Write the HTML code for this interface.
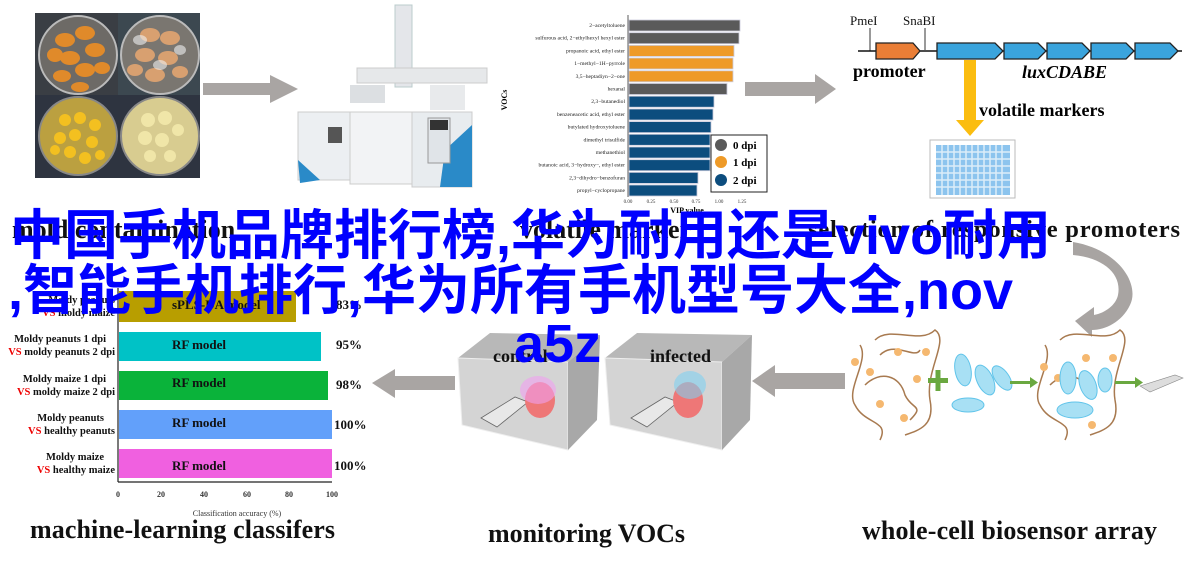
<!DOCTYPE html>
<html><head><meta charset="utf-8"><style>
html,body{margin:0;padding:0;background:#fff;}
body{width:1185px;height:569px;position:relative;overflow:hidden;font-family:"Liberation Serif",serif;}
svg{position:absolute;left:0;top:0;}
.ov{position:absolute;font-family:"Liberation Sans","Noto Sans CJK SC",sans-serif;font-weight:bold;color:#0000ff;font-size:54px;line-height:55px;white-space:nowrap;letter-spacing:0px;}
</style></head><body>
<svg width="1185" height="569" viewBox="0 0 1185 569" xmlns="http://www.w3.org/2000/svg" font-family="Liberation Serif, serif">
<!-- photo -->
<rect x="35" y="13" width="165" height="165" fill="#2e3440"/>
<rect x="35" y="13" width="83" height="82" fill="#3a3e44"/>
<rect x="118" y="13" width="82" height="82" fill="#3c4850"/>
<circle cx="78" cy="55" r="39" fill="#6d6a66" stroke="#bbb" stroke-width="2"/>
<circle cx="160" cy="55" r="39" fill="#7a7670" stroke="#bbb" stroke-width="2"/>
<circle cx="78" cy="136" r="39" fill="#bba040" stroke="#888" stroke-width="2"/>
<circle cx="160" cy="136" r="39" fill="#d8cc90" stroke="#888" stroke-width="2"/>
<g fill="#e08a2a">
<ellipse cx="65" cy="40" rx="10" ry="7"/><ellipse cx="85" cy="33" rx="10" ry="7"/><ellipse cx="95" cy="50" rx="10" ry="7"/><ellipse cx="70" cy="58" rx="10" ry="7"/><ellipse cx="55" cy="55" rx="8" ry="7"/><ellipse cx="85" cy="70" rx="10" ry="7"/><ellipse cx="62" cy="76" rx="9" ry="6"/><ellipse cx="102" cy="68" rx="8" ry="6"/><ellipse cx="80" cy="87" rx="9" ry="5"/></g>
<g fill="#d8a070"><ellipse cx="150" cy="35" rx="10" ry="7"/><ellipse cx="170" cy="38" rx="10" ry="7"/><ellipse cx="145" cy="55" rx="10" ry="7"/><ellipse cx="168" cy="58" rx="10" ry="7"/><ellipse cx="155" cy="75" rx="10" ry="7"/><ellipse cx="180" cy="72" rx="8" ry="6"/><ellipse cx="135" cy="70" rx="8" ry="6"/></g>
<g fill="#f0f0f0" opacity=".6"><ellipse cx="140" cy="40" rx="7" ry="5"/><ellipse cx="160" cy="65" rx="7" ry="5"/><ellipse cx="180" cy="50" rx="6" ry="5"/></g>
<g fill="#f3c020"><circle cx="65" cy="120" r="6"/><circle cx="80" cy="118" r="6"/><circle cx="95" cy="125" r="6"/><circle cx="60" cy="138" r="6"/><circle cx="75" cy="135" r="6"/><circle cx="92" cy="142" r="6"/><circle cx="70" cy="152" r="6"/><circle cx="85" cy="158" r="6"/><circle cx="100" cy="155" r="5"/><circle cx="55" cy="150" r="5"/></g>
<g fill="#f0e6a8"><circle cx="148" cy="120" r="7"/><circle cx="165" cy="118" r="7"/><circle cx="178" cy="130" r="6"/><circle cx="145" cy="138" r="7"/><circle cx="162" cy="140" r="7"/><circle cx="150" cy="156" r="6"/><circle cx="170" cy="156" r="6"/></g>
<!-- arrows -->
<polygon points="203,83 270,83 270,75 298,89 270,103 270,95 203,95" fill="#a9a5a3"/>
<polygon points="745,82 815,82 815,74 836,89 815,104 815,96 745,96" fill="#a9a5a3"/>
<polygon points="455,376 395,376 395,369 372,383 395,398 395,390 455,390" fill="#a9a5a3"/>
<polygon points="845,373 775,373 775,365 752,381 775,397 775,389 845,389" fill="#a9a5a3"/>
<!-- curved arrow -->
<path d="M1073,242 C1120,250 1140,285 1130,305 C1122,322 1105,330 1092,330 L1092,337 L1075,321 L1094,307 L1094,315 C1105,313 1116,305 1118,295 C1122,275 1105,258 1073,255 Z" fill="#a8a4a2"/>
<!-- machine -->
<rect x="395" y="5" width="17" height="82" fill="#e4e6ea" stroke="#bcc" />
<rect x="357" y="68" width="130" height="15" fill="#e6e8ea" stroke="#ccc"/>
<rect x="350" y="85" width="35" height="18" fill="#dcdfe2"/>
<rect x="430" y="85" width="35" height="25" fill="#e8eaec"/>
<rect x="298" y="112" width="110" height="68" fill="#eceff2" stroke="#ccc"/>
<rect x="350" y="112" width="65" height="72" fill="#f2f3f5" stroke="#ccc"/>
<rect x="412" y="112" width="60" height="75" fill="#e8ecef" stroke="#ccc"/>
<polygon points="298,160 320,180 300,183" fill="#2a8ac8"/>
<polygon points="445,150 472,125 472,187 440,187" fill="#2a8ac8"/>
<rect x="428" y="118" width="22" height="45" fill="#e0e4e8" stroke="#999"/>
<rect x="430" y="120" width="18" height="10" fill="#333"/>
<rect x="328" y="127" width="14" height="16" fill="#555"/>
<!-- VIP chart -->
<g font-size="5.6" text-anchor="end" fill="#222">
<text x="625" y="27">2−acetyltoluene</text><text x="625" y="39.7">sulfurous acid, 2−ethylhexyl hexyl ester</text><text x="625" y="52.4">propanoic acid, ethyl ester</text><text x="625" y="65">1−methyl−1H−pyrrole</text><text x="625" y="77.8">3,5−heptadiyn−2−one</text><text x="625" y="90.5">hexanal</text><text x="625" y="103.2">2,3−butanediol</text><text x="625" y="116">benzeneacetic acid, ethyl ester</text><text x="625" y="128.6">butylated hydroxytoluene</text><text x="625" y="141.3">dimethyl trisulfide</text><text x="625" y="154">methanethiol</text><text x="625" y="166.7">butanoic acid, 3−hydroxy−, ethyl ester</text><text x="625" y="179.4">2,3−dihydro−benzofuran</text><text x="625" y="192">propyl−cyclopropane</text></g>
<line x1="628" y1="15" x2="628" y2="197" stroke="#333" stroke-width=".8"/>
<g stroke="#ccd" stroke-width=".8">
<rect x="629" y="20" width="111" height="11" fill="#5a5a5a"/><rect x="629" y="32.7" width="110" height="11" fill="#5a5a5a"/>
<rect x="629" y="45.4" width="105" height="11" fill="#ee9a28"/><rect x="629" y="58" width="104" height="11" fill="#ee9a28"/><rect x="629" y="70.8" width="104" height="11" fill="#ee9a28"/>
<rect x="629" y="83.5" width="98" height="11" fill="#5a5a5a"/>
<rect x="629" y="96.2" width="85" height="11" fill="#0c4d7e"/><rect x="629" y="109" width="84" height="11" fill="#0c4d7e"/><rect x="629" y="121.6" width="82" height="11" fill="#0c4d7e"/><rect x="629" y="134.3" width="81" height="11" fill="#0c4d7e"/><rect x="629" y="147" width="81" height="11" fill="#0c4d7e"/><rect x="629" y="159.7" width="81" height="11" fill="#0c4d7e"/><rect x="629" y="172.4" width="69" height="11" fill="#0c4d7e"/><rect x="629" y="185" width="68" height="11" fill="#0c4d7e"/></g>
<g font-size="5" text-anchor="middle" fill="#333"><text x="628" y="203">0.00</text><text x="651" y="203">0.25</text><text x="674" y="203">0.50</text><text x="696" y="203">0.75</text><text x="719" y="203">1.00</text><text x="742" y="203">1.25</text></g>
<text x="687" y="213" font-size="8" font-weight="bold" text-anchor="middle">VIP value</text>
<text x="507" y="100" font-size="8" font-weight="bold" transform="rotate(-90 507 100)" text-anchor="middle">VOCs</text>
<rect x="711" y="135" width="56" height="57" fill="#fff" stroke="#222" stroke-width="1"/>
<circle cx="721" cy="145" r="6" fill="#5a5a5a"/><circle cx="721" cy="162" r="6" fill="#ee9a28"/><circle cx="721" cy="180" r="6" fill="#0c4d7e"/>
<g font-size="11" font-weight="bold"><text x="733" y="149">0  dpi</text><text x="733" y="166">1  dpi</text><text x="733" y="184">2  dpi</text></g>
<!-- gene -->
<g font-size="13" fill="#111"><text x="850" y="25">PmeI</text><text x="903" y="25">SnaBI</text></g>
<line x1="870" y1="28" x2="870" y2="51" stroke="#333"/><line x1="925" y1="28" x2="925" y2="50" stroke="#333"/>
<line x1="858" y1="51" x2="1182" y2="51" stroke="#111" stroke-width="1.5"/>
<polygon points="876,43 913,43 920,51 913,59 876,59" fill="#ea7e36" stroke="#222" stroke-width="1.3"/>
<g fill="#3aa4dd" stroke="#222" stroke-width="1.3">
<polygon points="937,43 995,43 1003,51 995,59 937,59"/>
<polygon points="1004,43 1038,43 1046,51 1038,59 1004,59"/>
<polygon points="1047,43 1082,43 1090,51 1082,59 1047,59"/>
<polygon points="1091,43 1126,43 1134,51 1126,59 1091,59"/>
<polygon points="1135,43 1170,43 1178,51 1170,59 1135,59"/></g>
<text x="853" y="77" font-size="18" font-weight="bold">promoter</text>
<text x="1022" y="78" font-size="18" font-weight="bold" font-style="italic">luxCDABE</text>
<rect x="964" y="60" width="12" height="62" fill="#fbbd10"/>
<polygon points="956,120 984,120 970,136" fill="#fbbd10"/>
<text x="979" y="116" font-size="18" font-weight="bold">volatile markers</text>
<rect x="930" y="140" width="85" height="58" fill="#fff" stroke="#bbb"/>
<rect x="936" y="145" width="74" height="50" fill="#8cc4ee"/>
<g stroke="#fff" stroke-width="1.5" opacity=".7">
<path d="M936,152H1010M936,159H1010M936,166H1010M936,173H1010M936,180H1010M936,187H1010M942,145V195M948,145V195M954,145V195M960,145V195M966,145V195M972,145V195M978,145V195M984,145V195M990,145V195M996,145V195M1002,145V195"/></g>
<!-- titles -->
<g font-weight="bold" fill="#111">
<text x="12" y="238" font-size="26">mold contamination</text>
<text x="520" y="238" font-size="26">volatile marker</text>
<text x="808" y="237" font-size="24.5" textLength="372">selection of responsive promoters</text>
</g>
<!-- left chart -->
<g font-size="10.5" font-weight="bold" fill="#111" text-anchor="end">
<text x="115" y="303">Moldy peanuts</text><text x="115" y="316"><tspan fill="#e00">VS</tspan> moldy maize</text>
<text x="106" y="342">Moldy peanuts 1 dpi</text><text x="115" y="355"><tspan fill="#e00">VS</tspan> moldy peanuts 2 dpi</text>
<text x="106" y="382">Moldy maize 1 dpi</text><text x="115" y="395"><tspan fill="#e00">VS</tspan> moldy maize 2 dpi</text>
<text x="104" y="421">Moldy peanuts</text><text x="115" y="434"><tspan fill="#e00">VS</tspan> healthy peanuts</text>
<text x="104" y="460">Moldy maize</text><text x="115" y="473"><tspan fill="#e00">VS</tspan> healthy maize</text></g>
<line x1="118" y1="288" x2="118" y2="482" stroke="#222" stroke-width="1.2"/>
<line x1="118" y1="482" x2="332" y2="482" stroke="#222" stroke-width="1.2"/>
<rect x="119" y="291" width="177" height="31" fill="#b89e00"/>
<rect x="119" y="332" width="202" height="29" fill="#00c2c6"/>
<rect x="119" y="371" width="209" height="29" fill="#0ab33a"/>
<rect x="119" y="410" width="213" height="29" fill="#62a0fa"/>
<rect x="119" y="449" width="213" height="29" fill="#f060e0"/>
<g font-size="13" font-weight="bold" fill="#111">
<text x="172" y="309">sPLS-DA model</text><text x="172" y="349">RF model</text><text x="172" y="387">RF model</text><text x="172" y="427">RF model</text><text x="172" y="470">RF model</text>
<text x="336" y="309">83%</text><text x="336" y="349">95%</text><text x="336" y="389">98%</text><text x="334" y="429">100%</text><text x="334" y="470">100%</text></g>
<g font-size="8" font-weight="bold" text-anchor="middle" fill="#333"><text x="118" y="497">0</text><text x="161" y="497">20</text><text x="204" y="497">40</text><text x="247" y="497">60</text><text x="289" y="497">80</text><text x="332" y="497">100</text></g>
<text x="237" y="516" font-size="8" text-anchor="middle" fill="#333">Classification accuracy (%)</text>
<text x="30" y="538" font-size="26" font-weight="bold" fill="#111" textLength="305">machine-learning classifers</text>
<!-- boxes -->
<g>
<polygon points="458,358 490,333 600,335 568,362" fill="#b8b8b8"/>
<polygon points="458,358 568,362 568,450 462,425" fill="#d4d4d4" stroke="#eee"/>
<polygon points="568,362 600,335 597,420 568,450" fill="#a8a8a8"/>
<polygon points="605,358 637,333 752,335 722,362" fill="#b8b8b8"/>
<polygon points="605,358 722,362 722,450 610,425" fill="#d4d4d4" stroke="#eee"/>
<polygon points="722,362 752,335 750,420 722,450" fill="#a8a8a8"/>
<polygon points="481,418 515,397 528,402 497,427" fill="#e8e8e8" stroke="#666" stroke-width=".8"/>
<polygon points="631,418 665,397 678,402 647,427" fill="#e8e8e8" stroke="#666" stroke-width=".8"/>
<ellipse cx="540" cy="400" rx="15" ry="18" fill="#e77" /><ellipse cx="688" cy="400" rx="15" ry="18" fill="#e77"/>
<ellipse cx="538" cy="390" rx="18" ry="14" fill="#f0a0f0" opacity=".6"/>
<ellipse cx="690" cy="385" rx="16" ry="14" fill="#80d0f0" opacity=".6"/>
<text x="493" y="362" font-size="18" font-weight="bold" fill="#111">control</text>
<text x="650" y="362" font-size="18" font-weight="bold" fill="#111">infected</text>
</g>
<text x="488" y="542" font-size="26" font-weight="bold" fill="#111" textLength="197">monitoring VOCs</text>
<!-- network -->
<g fill="none" stroke="#a87a50" stroke-width="1.5">
<path d="M860,345 C870,360 845,390 855,405 C865,425 890,420 880,440"/><path d="M875,340 C890,325 920,345 935,330 C950,340 925,370 930,400 C935,425 920,430 905,435"/><path d="M865,385 C880,370 900,375 905,395 C912,410 925,405 910,420"/><path d="M880,355 C895,340 915,360 920,350"/>
<path d="M1045,345 C1055,360 1030,390 1040,405 C1050,425 1075,420 1065,440"/><path d="M1060,340 C1075,325 1105,345 1120,330 C1135,340 1110,370 1115,400 C1120,425 1105,430 1090,435"/><path d="M1050,385 C1065,370 1085,375 1090,395"/></g>
<g fill="#f5b870"><circle cx="855" cy="362" r="4"/><circle cx="870" cy="372" r="4"/><circle cx="898" cy="352" r="4"/><circle cx="926" cy="352" r="4"/><circle cx="917" cy="379" r="4"/><circle cx="880" cy="404" r="4"/><circle cx="904" cy="418" r="4"/><circle cx="1044" cy="367" r="4"/><circle cx="1058" cy="378" r="4"/><circle cx="1086" cy="358" r="4"/><circle cx="1113" cy="358" r="4"/><circle cx="1092" cy="425" r="4"/></g>
<g fill="#a8e0f4" stroke="#60c4ea" stroke-width="1">
<ellipse cx="963" cy="370" rx="8" ry="16" transform="rotate(-10 963 370)"/><ellipse cx="985" cy="380" rx="8" ry="16" transform="rotate(-25 985 380)"/><ellipse cx="1002" cy="378" rx="7" ry="14" transform="rotate(-35 1002 378)"/><ellipse cx="968" cy="405" rx="16" ry="7"/>
<ellipse cx="1068" cy="378" rx="8" ry="16"/><ellipse cx="1088" cy="385" rx="8" ry="15" transform="rotate(-20 1088 385)"/><ellipse cx="1105" cy="380" rx="7" ry="12"/><ellipse cx="1075" cy="410" rx="18" ry="8"/></g>
<g fill="#6aa840"><rect x="928" y="378" width="20" height="5"/><rect x="935.5" y="370" width="5" height="21"/>
<rect x="1010" y="381" width="22" height="3"/><polygon points="1030,377 1038,382.5 1030,388"/>
<rect x="1115" y="381" width="22" height="3"/><polygon points="1135,377 1143,382.5 1135,388"/></g>
<polygon points="1140,386 1175,375 1183,378 1150,392" fill="#ddd" stroke="#888" stroke-width=".6"/>
<text x="862" y="539" font-size="26" font-weight="bold" fill="#111" textLength="295">whole-cell biosensor array</text>
</svg>
<div class="ov" style="left:10px;top:209px;">中国手机品牌排行榜,华为耐用还是vivo耐用</div>
<div class="ov" style="left:8px;top:264px;">,智能手机排行,华为所有手机型号大全,nov</div>
<div class="ov" style="left:514px;top:317px;">a5z</div>
</body></html>
